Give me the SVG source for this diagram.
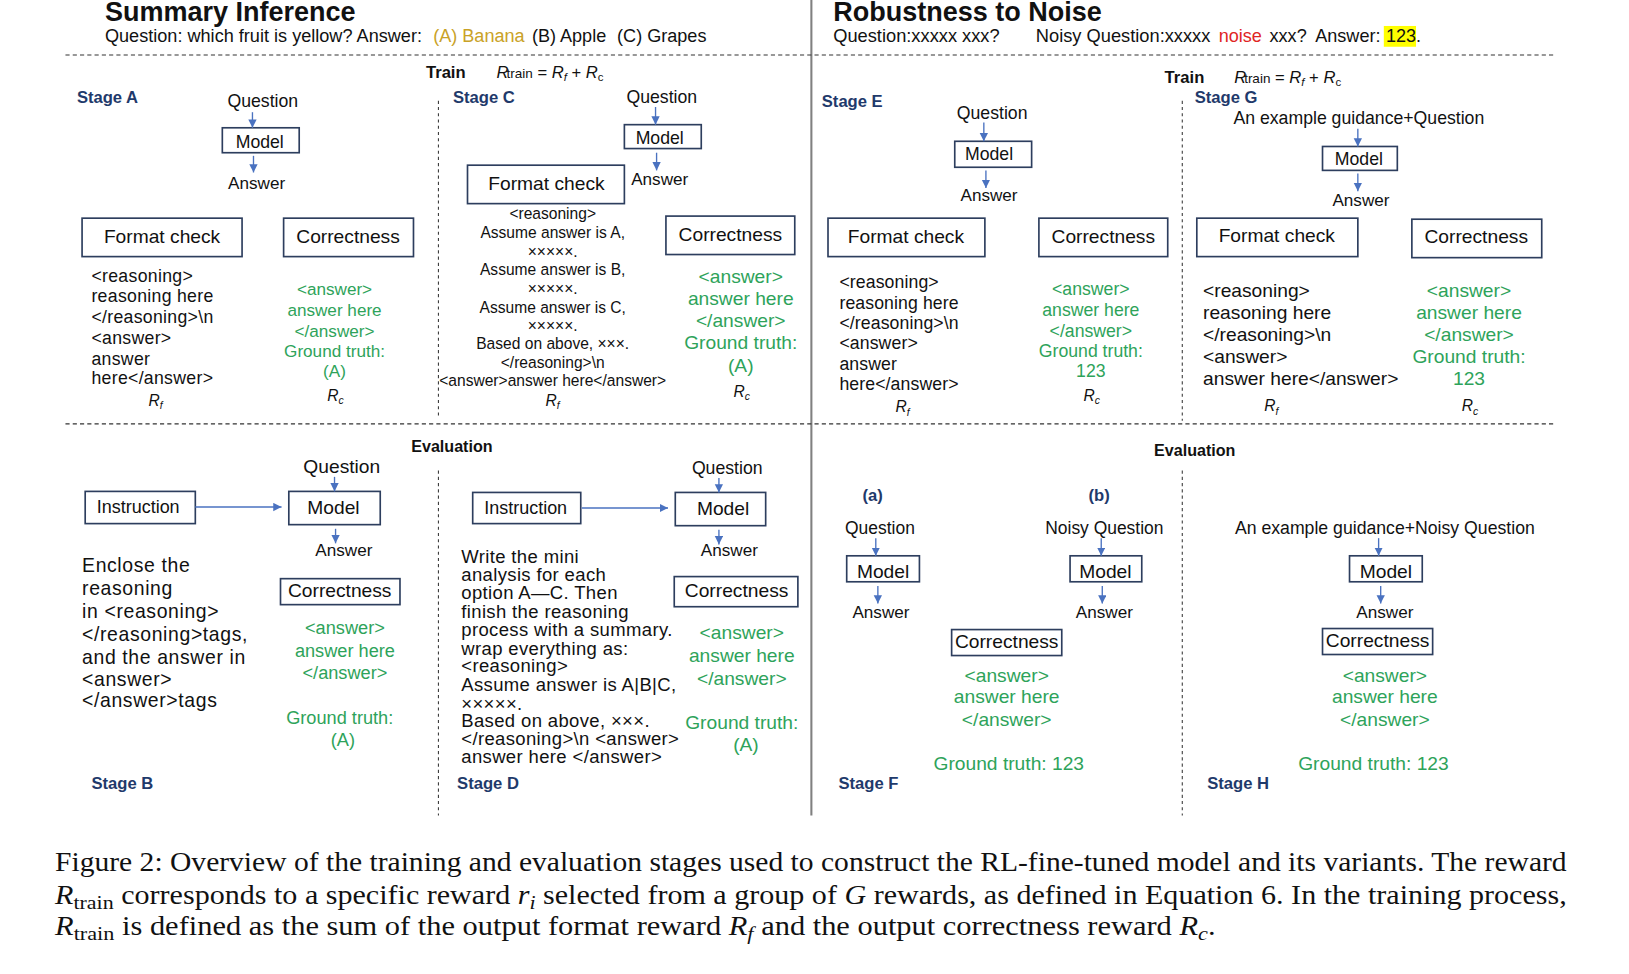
<svg xmlns="http://www.w3.org/2000/svg" width="1629" height="974" viewBox="0 0 1629 974">
<defs>
<marker id="ah" markerUnits="userSpaceOnUse" markerWidth="9" markerHeight="9" refX="8" refY="4" orient="auto">
<path d="M0,0 L8,4 L0,8 z" fill="#4a72c0"/>
</marker>
<style>
.t{font-family:"Liberation Sans",Arial,sans-serif;fill:#111;}
.c{text-anchor:middle;}
.b{font-weight:bold;}
.st{font-family:"Liberation Sans",Arial,sans-serif;font-weight:bold;fill:#1f3a6b;font-size:16px;}
.g{fill:#2ea35a;}
.box{fill:none;stroke:#2d3e5e;stroke-width:1.6;}
.arr{stroke:#4a72c0;stroke-width:1.3;fill:none;marker-end:url(#ah);}
.hd{stroke:#333;stroke-width:1;stroke-dasharray:4 3;fill:none;}
.vd{stroke:#333;stroke-width:1;stroke-dasharray:3 3;fill:none;}
.it{font-style:italic;}
.cap{font-family:"Liberation Serif","Times New Roman",serif;fill:#111;font-size:26px;}
</style>
</defs>
<rect width="1629" height="974" fill="#fff"/>
<g transform="scale(1.0389)">

<!-- frame lines -->
<g id="frame">
<line x1="781" y1="0" x2="781" y2="785" stroke="#808080" stroke-width="2"/>
<line class="hd" x1="63" y1="53" x2="1497" y2="53"/>
<line class="hd" x1="63" y1="408" x2="1497" y2="408"/>
<line class="vd" x1="422" y1="97" x2="422" y2="402"/>
<line class="vd" x1="422" y1="453" x2="422" y2="785"/>
<line class="vd" x1="1138" y1="97" x2="1138" y2="405"/>
<line class="vd" x1="1138" y1="453" x2="1138" y2="785"/>
</g>

<!-- headers -->
<g id="header-left">
<text class="t b" x="101" y="20" font-size="26">Summary Inference</text>
<text class="t" x="101" y="40" font-size="17.45">Question: which fruit is yellow?  Answer:</text>
<text class="t" x="417" y="40" font-size="17.4" style="fill:#c9a227">(A) Banana</text>
<text class="t" x="512" y="40" font-size="17.4">(B) Apple</text>
<text class="t" x="594" y="40" font-size="17.4">(C) Grapes</text>
</g>
<g id="header-right">
<text class="t b" x="802" y="20" font-size="26">Robustness to Noise</text>
<text class="t" x="802" y="40" font-size="17.6">Question:xxxxx xxx?</text>
<text class="t" x="997" y="40" font-size="17.6">Noisy Question:xxxxx</text>
<text class="t" x="1173" y="40" font-size="17.4" style="fill:#e02424">noise</text>
<text class="t" x="1222" y="40" font-size="17.4">xxx?</text>
<text class="t" x="1266" y="40" font-size="17.4">Answer:</text>
<rect x="1332" y="25" width="31" height="20" fill="#ffff00"/>
<text class="t" x="1334" y="40" font-size="17.4">123</text>
<text class="t" x="1363" y="40" font-size="17.4">.</text>
</g>

<g id="train-labels">
<text class="t b" x="410" y="75" font-size="16">Train</text>
<text class="t" x="478" y="75" font-size="16"><tspan class="it">R</tspan><tspan font-size="13" dx="-2">train</tspan> = <tspan class="it">R</tspan><tspan class="it" font-size="11" dy="3">f</tspan><tspan dy="-3">  + </tspan><tspan class="it">R</tspan><tspan font-size="11" dy="3">c</tspan></text>
<text class="t b" x="1121" y="80" font-size="16">Train</text>
<text class="t" x="1188" y="80" font-size="16"><tspan class="it">R</tspan><tspan font-size="13" dx="-2">train</tspan> = <tspan class="it">R</tspan><tspan class="it" font-size="11" dy="3">f</tspan><tspan dy="-3">  + </tspan><tspan class="it">R</tspan><tspan font-size="11" dy="3">c</tspan></text>
<text class="t b c" x="435" y="435" font-size="15.5">Evaluation</text>
<text class="t b c" x="1150" y="439" font-size="15.5">Evaluation</text>
</g>

<!-- Stage A -->
<g id="stageA">
<text class="st" x="74" y="99">Stage A</text>
<text class="t c" x="253" y="103" font-size="17">Question</text>
<rect class="box" x="214" y="123" width="74" height="24"/>
<text class="t c" x="250" y="142" font-size="17">Model</text>
<text class="t c" x="247" y="182" font-size="16.5">Answer</text>
<rect class="box" x="79" y="210" width="154" height="37"/>
<text class="t c" x="156" y="234" font-size="18.5">Format check</text>
<rect class="box" x="273" y="210" width="125" height="37"/>
<text class="t c" x="335" y="234" font-size="18.5">Correctness</text>
<text class="t" font-size="17" letter-spacing="0.3"><tspan x="88" y="271">&lt;reasoning&gt;</tspan><tspan x="88" y="291">reasoning here</tspan><tspan x="88" y="311">&lt;/reasoning&gt;\n</tspan><tspan x="88" y="331">&lt;answer&gt;</tspan><tspan x="88" y="351">answer</tspan><tspan x="88" y="370">here&lt;/answer&gt;</tspan></text>
<text class="t g c" font-size="16.5"><tspan x="322" y="284">&lt;answer&gt;</tspan><tspan x="322" y="304">answer here</tspan><tspan x="322" y="324">&lt;/answer&gt;</tspan><tspan x="322" y="344">Ground truth:</tspan><tspan x="322" y="363">(A)</tspan></text>
<text class="t" x="143" y="391" font-size="15"><tspan class="it">R</tspan><tspan class="it" font-size="10" dy="3">f</tspan></text>
<text class="t" x="315" y="386" font-size="15"><tspan class="it">R</tspan><tspan class="it" font-size="10" dy="3">c</tspan></text>
</g>

<!-- Stage C -->
<g id="stageC">
<text class="st" x="436" y="99">Stage C</text>
<text class="t c" x="637" y="99" font-size="17">Question</text>
<rect class="box" x="601" y="120" width="74" height="23"/>
<text class="t c" x="635" y="139" font-size="17">Model</text>
<text class="t c" x="635" y="178" font-size="16.5">Answer</text>
<rect class="box" x="450" y="159" width="151" height="37"/>
<text class="t c" x="526" y="183" font-size="18.5">Format check</text>
<rect class="box" x="641" y="208" width="124" height="37"/>
<text class="t c" x="703" y="232" font-size="18.5">Correctness</text>
<text class="t c" font-size="15"><tspan x="532" y="211">&lt;reasoning&gt;</tspan><tspan x="532" y="229">Assume answer is A,</tspan><tspan x="532" y="247">×××××.</tspan><tspan x="532" y="265">Assume answer is B,</tspan><tspan x="532" y="283">×××××.</tspan><tspan x="532" y="301">Assume answer is C,</tspan><tspan x="532" y="319">×××××.</tspan><tspan x="532" y="336">Based on above, ×××.</tspan><tspan x="532" y="354">&lt;/reasoning&gt;\n</tspan><tspan x="532" y="372">&lt;answer&gt;answer here&lt;/answer&gt;</tspan></text>
<text class="t g c" font-size="18.5"><tspan x="713" y="272">&lt;answer&gt;</tspan><tspan x="713" y="294">answer here</tspan><tspan x="713" y="315">&lt;/answer&gt;</tspan><tspan x="713" y="336">Ground truth:</tspan><tspan x="713" y="358">(A)</tspan></text>
<text class="t" x="525" y="391" font-size="15"><tspan class="it">R</tspan><tspan class="it" font-size="10" dy="3">f</tspan></text>
<text class="t" x="706" y="382" font-size="15"><tspan class="it">R</tspan><tspan class="it" font-size="10" dy="3">c</tspan></text>
</g>

<!-- Stage E -->
<g id="stageE">
<text class="st" x="791" y="103">Stage E</text>
<text class="t c" x="955" y="115" font-size="17">Question</text>
<rect class="box" x="919" y="136" width="74" height="25"/>
<text class="t c" x="952" y="154" font-size="17">Model</text>
<text class="t c" x="952" y="193" font-size="16.5">Answer</text>
<rect class="box" x="797" y="210" width="151" height="37"/>
<text class="t c" x="872" y="234" font-size="18.5">Format check</text>
<rect class="box" x="1000" y="210" width="124" height="37"/>
<text class="t c" x="1062" y="234" font-size="18.5">Correctness</text>
<text class="t" font-size="17" letter-spacing="0.1"><tspan x="808" y="277">&lt;reasoning&gt;</tspan><tspan x="808" y="297">reasoning here</tspan><tspan x="808" y="317">&lt;/reasoning&gt;\n</tspan><tspan x="808" y="336">&lt;answer&gt;</tspan><tspan x="808" y="356">answer</tspan><tspan x="808" y="375">here&lt;/answer&gt;</tspan></text>
<text class="t g c" font-size="17"><tspan x="1050" y="284">&lt;answer&gt;</tspan><tspan x="1050" y="304">answer here</tspan><tspan x="1050" y="324">&lt;/answer&gt;</tspan><tspan x="1050" y="344">Ground truth:</tspan><tspan x="1050" y="363">123</tspan></text>
<text class="t" x="862" y="397" font-size="15"><tspan class="it">R</tspan><tspan class="it" font-size="10" dy="3">f</tspan></text>
<text class="t" x="1043" y="386" font-size="15"><tspan class="it">R</tspan><tspan class="it" font-size="10" dy="3">c</tspan></text>
</g>

<!-- Stage G -->
<g id="stageG">
<text class="st" x="1150" y="99">Stage G</text>
<text class="t c" x="1308" y="119" font-size="17">An example guidance+Question</text>
<rect class="box" x="1273" y="141" width="72" height="23"/>
<text class="t c" x="1308" y="159" font-size="17">Model</text>
<text class="t c" x="1310" y="198" font-size="16.5">Answer</text>
<rect class="box" x="1152" y="210" width="155" height="37"/>
<text class="t c" x="1229" y="233" font-size="18.5">Format check</text>
<rect class="box" x="1359" y="211" width="125" height="37"/>
<text class="t c" x="1421" y="234" font-size="18.5">Correctness</text>
<text class="t" font-size="18.5"><tspan x="1158" y="286">&lt;reasoning&gt;</tspan><tspan x="1158" y="307">reasoning here</tspan><tspan x="1158" y="328">&lt;/reasoning&gt;\n</tspan><tspan x="1158" y="349">&lt;answer&gt;</tspan><tspan x="1158" y="371">answer here&lt;/answer&gt;</tspan></text>
<text class="t g c" font-size="18.5"><tspan x="1414" y="286">&lt;answer&gt;</tspan><tspan x="1414" y="307">answer here</tspan><tspan x="1414" y="328">&lt;/answer&gt;</tspan><tspan x="1414" y="349">Ground truth:</tspan><tspan x="1414" y="371">123</tspan></text>
<text class="t" x="1217" y="396" font-size="15"><tspan class="it">R</tspan><tspan class="it" font-size="10" dy="3">f</tspan></text>
<text class="t" x="1407" y="396" font-size="15"><tspan class="it">R</tspan><tspan class="it" font-size="10" dy="3">c</tspan></text>
</g>

<!-- Stage B -->
<g id="stageB">
<text class="t c" x="329" y="455" font-size="18.5">Question</text>
<rect class="box" x="82" y="473" width="106" height="31"/>
<text class="t c" x="133" y="494" font-size="17.3">Instruction</text>
<rect class="box" x="278" y="473" width="88" height="32"/>
<text class="t c" x="321" y="495" font-size="18.5">Model</text>
<text class="t c" x="331" y="535" font-size="16.5">Answer</text>
<rect class="box" x="270" y="557" width="115" height="25"/>
<text class="t c" x="327" y="575" font-size="18.5">Correctness</text>
<text class="t" font-size="18.7" letter-spacing="0.6"><tspan x="79" y="551">Enclose the</tspan><tspan x="79" y="573">reasoning</tspan><tspan x="79" y="595">in &lt;reasoning&gt;</tspan><tspan x="79" y="617">&lt;/reasoning&gt;tags,</tspan><tspan x="79" y="639">and the answer in</tspan><tspan x="79" y="660">&lt;answer&gt;</tspan><tspan x="79" y="681">&lt;/answer&gt;tags</tspan></text>
<text class="t g c" font-size="17.5"><tspan x="332" y="610">&lt;answer&gt;</tspan><tspan x="332" y="632">answer here</tspan><tspan x="332" y="654">&lt;/answer&gt;</tspan><tspan x="327" y="697">Ground truth:</tspan><tspan x="330" y="718">(A)</tspan></text>
<text class="st" x="88" y="759">Stage B</text>
</g>

<!-- Stage D -->
<g id="stageD">
<text class="t c" x="700" y="456" font-size="17">Question</text>
<rect class="box" x="455" y="474" width="104" height="30"/>
<text class="t c" x="506" y="495" font-size="17.3">Instruction</text>
<rect class="box" x="650" y="474" width="87" height="32"/>
<text class="t c" x="696" y="496" font-size="18.5">Model</text>
<text class="t c" x="702" y="535" font-size="16.5">Answer</text>
<rect class="box" x="649" y="555" width="119" height="29"/>
<text class="t c" x="709" y="575" font-size="18.5">Correctness</text>
<text class="t" font-size="17.8" letter-spacing="0.35"><tspan x="444" y="542">Write the mini</tspan><tspan x="444" y="559">analysis for each</tspan><tspan x="444" y="577">option  A—C. Then</tspan><tspan x="444" y="595">finish the reasoning</tspan><tspan x="444" y="612">process with a summary.</tspan><tspan x="444" y="630">wrap everything as:</tspan><tspan x="444" y="647">&lt;reasoning&gt;</tspan><tspan x="444" y="665">Assume answer is A|B|C,</tspan><tspan x="444" y="683">×××××.</tspan><tspan x="444" y="700">Based on above, ×××.</tspan><tspan x="444" y="717">&lt;/reasoning&gt;\n &lt;answer&gt;</tspan><tspan x="444" y="734">answer here &lt;/answer&gt;</tspan></text>
<text class="t g c" font-size="18.5"><tspan x="714" y="615">&lt;answer&gt;</tspan><tspan x="714" y="637">answer here</tspan><tspan x="714" y="659">&lt;/answer&gt;</tspan><tspan x="714" y="702">Ground truth:</tspan><tspan x="718" y="723">(A)</tspan></text>
<text class="st" x="440" y="759">Stage D</text>
</g>

<!-- Stage F -->
<g id="stageF">
<text class="st c" x="840" y="482" font-size="17">(a)</text>
<text class="st c" x="1058" y="482" font-size="17">(b)</text>
<text class="t c" x="847" y="514" font-size="16.8">Question</text>
<rect class="box" x="815" y="535" width="70" height="25"/>
<text class="t c" x="850" y="556" font-size="18.5">Model</text>
<text class="t c" x="848" y="595" font-size="16.5">Answer</text>
<text class="t c" x="1063" y="514" font-size="16.8">Noisy Question</text>
<rect class="box" x="1030" y="535" width="69" height="25"/>
<text class="t c" x="1064" y="556" font-size="18.5">Model</text>
<text class="t c" x="1063" y="595" font-size="16.5">Answer</text>
<rect class="box" x="916" y="606" width="106" height="25"/>
<text class="t c" x="969" y="624" font-size="18.5">Correctness</text>
<text class="t g c" font-size="18.5"><tspan x="969" y="656">&lt;answer&gt;</tspan><tspan x="969" y="677">answer here</tspan><tspan x="969" y="699">&lt;/answer&gt;</tspan><tspan x="971" y="741">Ground truth: 123</tspan></text>
<text class="st" x="807" y="759">Stage F</text>
</g>

<!-- Stage H -->
<g id="stageH">
<text class="t c" x="1333" y="514" font-size="17">An example guidance+Noisy Question</text>
<rect class="box" x="1299" y="535" width="70" height="25"/>
<text class="t c" x="1334" y="556" font-size="18.5">Model</text>
<text class="t c" x="1333" y="595" font-size="16.5">Answer</text>
<rect class="box" x="1273" y="605" width="106" height="25"/>
<text class="t c" x="1326" y="623" font-size="18.5">Correctness</text>
<text class="t g c" font-size="18.5"><tspan x="1333" y="656">&lt;answer&gt;</tspan><tspan x="1333" y="677">answer here</tspan><tspan x="1333" y="699">&lt;/answer&gt;</tspan><tspan x="1322" y="741">Ground truth: 123</tspan></text>
<text class="st" x="1162" y="759">Stage H</text>
</g>

<!-- connectors -->
<g id="connectors">
<line class="arr" x1="243" y1="108" x2="243" y2="123"/>
<line class="arr" x1="244" y1="150" x2="244" y2="166"/>
<line class="arr" x1="631" y1="103" x2="631" y2="120"/>
<line class="arr" x1="632" y1="147" x2="632" y2="164"/>
<line class="arr" x1="947" y1="118" x2="947" y2="136"/>
<line class="arr" x1="949" y1="164" x2="949" y2="181"/>
<line class="arr" x1="1307" y1="124" x2="1307" y2="141"/>
<line class="arr" x1="1307" y1="167" x2="1307" y2="184"/>
<line class="arr" x1="322" y1="459" x2="322" y2="473"/>
<line class="arr" x1="323" y1="509" x2="323" y2="523"/>
<line class="arr" x1="188" y1="488" x2="271" y2="488"/>
<line class="arr" x1="692" y1="460" x2="692" y2="474"/>
<line class="arr" x1="692" y1="510" x2="692" y2="524"/>
<line class="arr" x1="560" y1="489" x2="643" y2="489"/>
<line class="arr" x1="843" y1="518" x2="843" y2="535"/>
<line class="arr" x1="845" y1="564" x2="845" y2="581"/>
<line class="arr" x1="1060" y1="518" x2="1060" y2="535"/>
<line class="arr" x1="1061" y1="564" x2="1061" y2="581"/>
<line class="arr" x1="1327" y1="518" x2="1327" y2="535"/>
<line class="arr" x1="1329" y1="564" x2="1329" y2="581"/>
</g>

<!-- caption -->
<g id="caption">
<text class="cap" x="53" y="838" textLength="1455" lengthAdjust="spacingAndGlyphs">Figure 2: Overview of the training and evaluation stages used to construct the RL-fine-tuned model and its variants. The reward</text>
<text class="cap" x="53" y="870" textLength="1455" lengthAdjust="spacingAndGlyphs"><tspan class="it">R</tspan><tspan font-size="19" dy="5">train</tspan><tspan dy="-5"> corresponds to a specific reward </tspan><tspan class="it">r</tspan><tspan class="it" font-size="19" dy="5">i</tspan><tspan dy="-5"> selected from a group of </tspan><tspan class="it">G</tspan> rewards, as defined in Equation 6. In the training process,</text>
<text class="cap" x="53" y="900" textLength="1117" lengthAdjust="spacingAndGlyphs"><tspan class="it">R</tspan><tspan font-size="19" dy="5">train</tspan><tspan dy="-5"> is defined as the sum of the output format reward </tspan><tspan class="it">R</tspan><tspan class="it" font-size="19" dy="5">f</tspan><tspan dy="-5"> and the output correctness reward </tspan><tspan class="it">R</tspan><tspan class="it" font-size="19" dy="5">c</tspan><tspan dy="-5">.</tspan></text>
</g>
</g>
</svg>
